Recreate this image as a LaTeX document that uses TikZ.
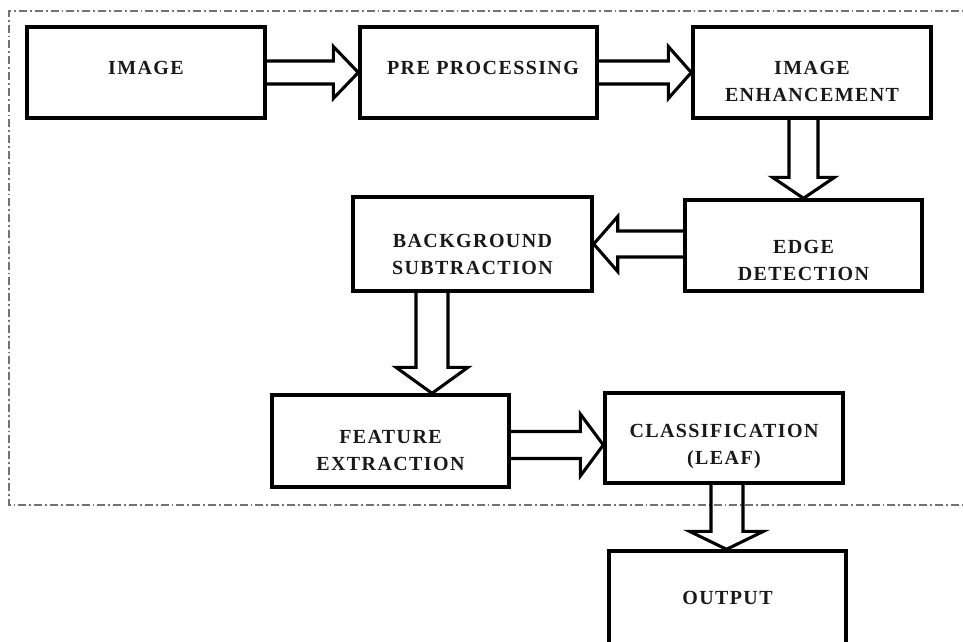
\documentclass[tikz,border=0pt]{standalone}
\usepackage{fontspec}
\setmainfont{Liberation Serif}
\newfontfamily\lblfont[LetterSpace=7]{Liberation Serif}
\usetikzlibrary{calc}
\tikzset{
  box/.style={draw=black, line width=3.4pt, minimum width=237pt, minimum height=91pt, inner sep=0pt},
  lbl/.style={font=\lblfont\fontsize{20}{27}\selectfont\bfseries, align=center, inner sep=0pt, text=black!90},
  barrow/.style={draw=black, line width=3.1pt, line join=miter, miter limit=10},
  frame/.style={draw=black!55, line width=1.4pt, dash pattern=on 8pt off 3pt on 1.8pt off 3pt}
}
\begin{document}
\begin{tikzpicture}[x=1pt,y=-1pt]
\useasboundingbox (0,0) rectangle (963,642);
% dashed frame (right side runs off the picture)
\draw[frame] (975,11) -- (9,11) -- (9,505) -- (975,505);

% boxes
\node[box, minimum width=238pt] (img) at (146,72.5) {};
\node[box] (pre) at (478.5,72.5) {};
\node[box, minimum width=238pt] (ie) at (812,72.5) {};
\node[box, minimum height=91pt] (edge) at (803.5,245.5) {};
\node[box, minimum width=239pt, minimum height=94pt] (bg) at (472.5,244) {};
\node[box, minimum height=92pt] (feat) at (390.5,441) {};
\node[box, minimum width=238pt, minimum height=90pt] (cls) at (724,438) {};
\node[box, minimum height=93pt] (out) at (727.5,597.5) {};

% labels
\node[lbl] (timg) at (146,68) {IMAGE};
\node[lbl] (tpre) at (483,68) {PRE PROCESSING};
\node[lbl] (tie) at (812,81.5) {IMAGE\\ENHANCEMENT};
\node[lbl] (tedge) at (803.5,260) {EDGE\\DETECTION};
\node[lbl] (tbg) at (472.5,254.5) {BACKGROUND\\SUBTRACTION};
\node[lbl] (tfeat) at (390.5,450) {FEATURE\\EXTRACTION};
\node[lbl] (tcls) at (724,447) {CLASSIFICATION\\(LEAF)};
\node[lbl] (tout) at (727.5,598) {OUTPUT};

% block arrows
% image -> pre processing
\draw[barrow] let \p1=(img.east), \p2=(pre.west) in
  (\x1,\y2+11.5pt) -- (\x2-25pt,\y2+11.5pt) -- (\x2-25pt,\y2+26pt) -- (\x2,\y2)
  -- (\x2-25pt,\y2-26pt) -- (\x2-25pt,\y2-11.5pt) -- (\x1,\y2-11.5pt);
% pre processing -> image enhancement
\draw[barrow] let \p1=(pre.east), \p2=(ie.west) in
  (\x1,\y2+11.5pt) -- (\x2-23pt,\y2+11.5pt) -- (\x2-23pt,\y2+26pt) -- (\x2,\y2)
  -- (\x2-23pt,\y2-26pt) -- (\x2-23pt,\y2-11.5pt) -- (\x1,\y2-11.5pt);
% image enhancement -> edge detection
\draw[barrow] let \p1=(ie.south), \p2=(edge.north) in
  (\x2-14.5pt,\y1) -- (\x2-14.5pt,\y2+21pt) -- (\x2-31pt,\y2+21pt) -- (\x2,\y2)
  -- (\x2+31pt,\y2+21pt) -- (\x2+14.5pt,\y2+21pt) -- (\x2+14.5pt,\y1);
% edge detection -> background subtraction
\draw[barrow] let \p1=(edge.west), \p2=(bg.east) in
  (\x1,\y2+13pt) -- (\x2+24pt,\y2+13pt) -- (\x2+24pt,\y2+27.5pt) -- (\x2,\y2)
  -- (\x2+24pt,\y2-27.5pt) -- (\x2+24pt,\y2-13pt) -- (\x1,\y2-13pt);
% background subtraction -> feature extraction
\draw[barrow] let \p1=(bg.south), \p2=(feat.north) in
  (\x2+25.5pt,\y1) -- (\x2+25.5pt,\y2+26pt) -- (\x2+5.5pt,\y2+26pt) -- (\x2+41.5pt,\y2)
  -- (\x2+77.5pt,\y2+26pt) -- (\x2+57.5pt,\y2+26pt) -- (\x2+57.5pt,\y1);
% feature extraction -> classification
\draw[barrow] let \p1=(feat.east), \p2=(cls.west) in
  (\x1,\y1-4pt+13.5pt) -- (\x2-23pt,\y1-4pt+13.5pt) -- (\x2-23pt,\y1-4pt+31pt) -- (\x2,\y1-4pt)
  -- (\x2-23pt,\y1-4pt-31pt) -- (\x2-23pt,\y1-4pt-13.5pt) -- (\x1,\y1-4pt-13.5pt);
% classification -> output
\draw[barrow] let \p1=(cls.south), \p2=(out.north) in
  (\x2-16.5pt,\y1) -- (\x2-16.5pt,\y2+18pt) -- (\x2-38pt,\y2+18pt) -- (\x2-1pt,\y2)
  -- (\x2+36pt,\y2+18pt) -- (\x2+15.5pt,\y2+18pt) -- (\x2+15.5pt,\y1);
\end{tikzpicture}
\end{document}
